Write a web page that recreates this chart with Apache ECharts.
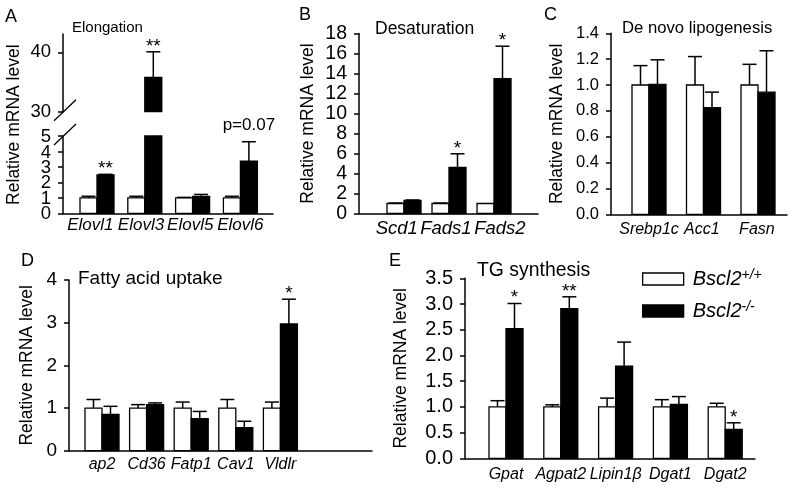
<!DOCTYPE html>
<html>
<head>
<meta charset="utf-8">
<script src="https://cdn.jsdelivr.net/npm/echarts@6.0.0/dist/echarts.min.js"></script>
<style>
  html, body { margin: 0; padding: 0; background: #fff; }
  #main { width: 799px; height: 489px; }
</style>
</head>
<body>
<div id="main"></div>
<script>
var FONT = '"Liberation Sans", Arial, sans-serif';
var BAR_W = 17;   // width of one bar
var CAP = 7;      // half width of error cap

// A - Elongation (broken axis)
var aCats = ['Elovl1', 'Elovl3', 'Elovl5', 'Elovl6'];
var aWt = [1, 1, 1, 1];
var aWtErr = [0.1, 0.1, 0.03, 0.1];
var aKo = [2.48, 35.8, 1.1, 3.38];
var aKoErr = [0.04, 4.3, 0.12, 1.25];
var aMarks = ['**', '**', '', 'p=0.07'];
var aLowTicks = [0, 1, 2, 3, 4, 5];
var aHighTicks = [30, 40];

// B - Desaturation
var bCats = ['Scd1', 'Fads1', 'Fads2'];
var bWt = [1, 1, 1];
var bWtErr = [0.05, 0.05, 0];
var bKo = [1.3, 4.62, 13.48];
var bKoErr = [0.05, 1.35, 3.25];
var bMarks = ['', '*', '*'];

// C - De novo lipogenesis
var cCats = ['Srebp1c', 'Acc1', 'Fasn'];
var cWt = [1, 1, 1];
var cWtErr = [0.15, 0.22, 0.16];
var cKo = [1.005, 0.825, 0.945];
var cKoErr = [0.19, 0.12, 0.32];
var cMarks = ['', '', ''];

// D - Fatty acid uptake
var dCats = ['ap2', 'Cd36', 'Fatp1', 'Cav1', 'Vldlr'];
var dWt = [1, 1, 1, 1, 1];
var dWtErr = [0.2, 0.08, 0.14, 0.2, 0.14];
var dKo = [0.85, 1.08, 0.75, 0.54, 2.97];
var dKoErr = [0.19, 0.04, 0.17, 0.15, 0.58];
var dMarks = ['', '', '', '', '*'];

// E - TG synthesis
var eCats = ['Gpat', 'Agpat2', 'Lipin1β', 'Dgat1', 'Dgat2'];
var eWt = [1, 1, 1, 1, 1];
var eWtErr = [0.12, 0.04, 0.17, 0.14, 0.07];
var eKo = [2.52, 2.91, 1.79, 1.05, 0.56];
var eKoErr = [0.49, 0.23, 0.47, 0.15, 0.13];
var eMarks = ['*', '**', '', '', '*'];

var WT_NAME = 'Bscl2+/+';
var KO_NAME = 'Bscl2-/-';
var YNAME = 'Relative mRNA level';

// layout per grid: axis pixels, first category centre, spacing, fonts, label shifts
var geo = [
  { left: 63, right: 273, top: 136, bottom: 213.3, c0: 97, s: 47.8, tick: 18.5, cat: 17, catGap: 3, shift: [-0.14, -0.08, -0.05, 0] },
  { left: 63, right: 273, top: 34, bottom: 111.7, c0: 97, s: 47.8, tick: 18.5, cat: 17, catGap: 3, shift: [0, 0, 0, 0] },
  { left: 359, right: 538, top: 33.5, bottom: 213.5, c0: 404, s: 45, tick: 19.5, cat: 18.5, catGap: 6, shift: [-0.16, -0.07, 0.13] },
  { left: 611, right: 787, top: 33.3, bottom: 214.3, c0: 649, s: 54.5, tick: 16.5, cat: 16, catGap: 7, shift: [0, -0.03, -0.02] },
  { left: 69, right: 372, top: 280, bottom: 450.7, c0: 102, s: 44.6, tick: 19, cat: 16, catGap: 6, shift: [0, 0, 0, 0, 0] },
  { left: 465, right: 755, top: 278.3, bottom: 458.3, c0: 506, s: 54.8, tick: 20, cat: 16, catGap: 8, shift: [0, 0, 0, 0, 0] }
];

function xMin(g) { return (g.left - g.c0) / g.s; }
function xMax(g) { return (g.right - g.c0) / g.s; }

function barRender(side, fill) {
  return function (params, api) {
    var cs = params.coordSys;
    var p = api.coord([api.value(0), api.value(1)]);
    var y0 = api.coord([api.value(0), 0])[1];
    var top = Math.max(p[1], cs.y);
    var bottom = Math.min(y0, cs.y + cs.height);
    if (top >= bottom) return null;
    var x = side < 0 ? p[0] - BAR_W : p[0];
    return {
      type: 'rect',
      shape: { x: x, y: top, width: BAR_W, height: bottom - top },
      style: { fill: fill, stroke: '#000', lineWidth: 1.3 }
    };
  };
}

function errRender(side, marks) {
  return function (params, api) {
    var cs = params.coordSys;
    var i = api.value(0), v = api.value(1), e = api.value(2);
    var pv = api.coord([i, v]);
    var pc = api.coord([i, v + e]);
    if (pv[1] < cs.y - 0.5 || pv[1] > cs.y + cs.height + 0.5) return null;
    var cx = pv[0] + side * BAR_W / 2;
    var kids = [];
    if (e > 0) {
      kids.push({ type: 'line', shape: { x1: cx, y1: pv[1], x2: cx, y2: pc[1] },
        style: { stroke: '#000', lineWidth: 1.5 } });
      kids.push({ type: 'line', shape: { x1: cx - CAP, y1: pc[1], x2: cx + CAP, y2: pc[1] },
        style: { stroke: '#000', lineWidth: 1.5 } });
    }
    var m = marks ? marks[params.dataIndex] : '';
    if (m) {
      var isText = m.charAt(0) === 'p';
      kids.push({ type: 'text', x: cx, y: pc[1] + (isText ? -8 : 4),
        style: { text: m, fill: '#000', align: 'center', verticalAlign: 'bottom',
          fontSize: isText ? 17 : 19, fontFamily: FONT } });
    }
    return { type: 'group', children: kids };
  };
}

function seriesFor(gi, cats, wt, wtErr, ko, koErr, marks) {
  var wtData = cats.map(function (c, i) { return [i, wt[i], wtErr[i]]; });
  var koData = cats.map(function (c, i) { return [i, ko[i], koErr[i]]; });
  var base = { type: 'custom', xAxisIndex: gi, yAxisIndex: gi, encode: { x: 0, y: 1 }, silent: true };
  return [
    Object.assign({}, base, { name: WT_NAME, data: wtData, renderItem: barRender(-1, '#fff'), itemStyle: { color: '#fff' } }),
    Object.assign({}, base, { name: KO_NAME, data: koData, renderItem: barRender(1, '#000'), itemStyle: { color: '#000' } }),
    Object.assign({}, base, { data: wtData, renderItem: errRender(-1, null), z: 3 }),
    Object.assign({}, base, { data: koData, renderItem: errRender(1, marks), z: 3 })
  ];
}

function xAxisFor(gi, cats, show) {
  var g = geo[gi];
  return {
    gridIndex: gi, type: 'value', min: xMin(g), max: xMax(g), show: show,
    axisLine: { show: true, onZero: false, lineStyle: { color: '#000', width: 1.5 } },
    axisTick: { show: false },
    splitLine: { show: false },
    axisLabel: {
      customValues: cats.map(function (c, i) { return i + g.shift[i]; }),
      formatter: function (v) { return cats[Math.round(v)]; },
      hideOverlap: false,
      fontSize: g.cat, fontStyle: 'italic', fontFamily: FONT, color: '#000', margin: g.catGap
    }
  };
}

function yAxisFor(gi, min, max, interval, decimals, name, nameGap, custom) {
  var ax = {
    gridIndex: gi, type: 'value', min: min, max: max, interval: interval,
    axisLine: { show: true, onZero: false, lineStyle: { color: '#000', width: 1.5 } },
    axisTick: { show: true, length: 5, lineStyle: { color: '#000', width: 1.5 } },
    splitLine: { show: false },
    axisLabel: {
      fontSize: geo[gi].tick, fontFamily: FONT, color: '#000', margin: 12,
      showMinLabel: true, showMaxLabel: true, hideOverlap: false,
      formatter: function (v) { return v.toFixed(decimals); }
    }
  };
  if (custom) {
    ax.axisLabel.customValues = custom;
    ax.axisTick.customValues = custom;
  }
  if (name) {
    ax.name = name;
    ax.nameLocation = 'middle';
    ax.nameGap = nameGap;
    ax.nameTextStyle = { fontSize: 17.5, fontFamily: FONT, color: '#000' };
  }
  return ax;
}

function titleAt(text, left, top, size) {
  return { text: text, left: left, top: top, padding: 0,
    textStyle: { fontSize: size, fontWeight: 'normal', fontFamily: FONT, color: '#000' } };
}

// the short lower segment of A is too dense for ECharts' own labels (it drops some),
// so its tick labels are placed below through the axis scale instead
var aLowY = yAxisFor(0, 0, 5, 1, 0, null, 0, aLowTicks);
aLowY.axisLabel.show = false;

var option = {
  backgroundColor: '#fff',
  animation: false,
  title: [
    titleAt('A', 5, 8, 18), titleAt('B', 299, 6, 18), titleAt('C', 544, 6, 18),
    titleAt('D', 21, 252, 18), titleAt('E', 389, 252, 18),
    titleAt('Elongation', 72, 20, 15),
    titleAt('Desaturation', 375, 20, 17.5),
    titleAt('De novo lipogenesis', 622, 20, 16.7),
    titleAt('Fatty acid uptake', 78, 269, 19),
    titleAt('TG synthesis', 477, 261, 19.4)
  ],
  grid: geo.map(function (g) {
    return { left: g.left, top: g.top, width: g.right - g.left, height: g.bottom - g.top,
      containLabel: false, outerBoundsMode: 'none' };
  }),
  xAxis: [
    xAxisFor(0, aCats, true),
    xAxisFor(1, aCats, false),
    xAxisFor(2, bCats, true),
    xAxisFor(3, cCats, true),
    xAxisFor(4, dCats, true),
    xAxisFor(5, eCats, true)
  ],
  yAxis: [
    aLowY,
    yAxisFor(1, 30, 43.1, 10, 0, null, 0, aHighTicks),
    yAxisFor(2, 0, 18, 2, 0, YNAME, 42),
    yAxisFor(3, 0, 1.4, 0.2, 1, YNAME, 45),
    yAxisFor(4, 0, 4, 1, 0, YNAME, 33),
    yAxisFor(5, 0, 3.5, 0.5, 1, YNAME, 55)
  ],
  legend: {
    left: 642, top: 268, orient: 'vertical', padding: 0,
    itemWidth: 41, itemHeight: 12, itemGap: 11,
    selectedMode: false,
    data: [
      { name: WT_NAME, icon: 'rect', itemStyle: { color: '#fff', borderColor: '#000', borderWidth: 1.3 } },
      { name: KO_NAME, icon: 'rect', itemStyle: { color: '#000', borderColor: '#000', borderWidth: 1.3 } }
    ],
    formatter: function (name) { return '{n|Bscl2}{s|' + name.slice(5) + '}'; },
    textStyle: {
      rich: {
        n: { fontSize: 20, fontStyle: 'italic', fontFamily: FONT, color: '#000', lineHeight: 22, padding: [0, 0, 0, 4] },
        s: { fontSize: 14, fontStyle: 'italic', fontFamily: FONT, color: '#000', lineHeight: 13, verticalAlign: 'top' }
      }
    }
  },
  series: [].concat(
    seriesFor(0, aCats, aWt, aWtErr, aKo, aKoErr, aMarks),
    seriesFor(1, aCats, aWt, aWtErr, aKo, aKoErr, aMarks),
    seriesFor(2, bCats, bWt, bWtErr, bKo, bKoErr, bMarks),
    seriesFor(3, cCats, cWt, cWtErr, cKo, cKoErr, cMarks),
    seriesFor(4, dCats, dWt, dWtErr, dKo, dKoErr, dMarks),
    seriesFor(5, eCats, eWt, eWtErr, eKo, eKoErr, eMarks)
  )
};

var chart = echarts.init(document.getElementById('main'), null, { renderer: 'canvas' });
chart.setOption(option);

// axis break marks, A lower tick labels and the A y title
var p30 = chart.convertToPixel({ gridIndex: 1 }, [xMin(geo[1]), aHighTicks[0]]);
var p5 = chart.convertToPixel({ gridIndex: 0 }, [xMin(geo[0]), aLowTicks[aLowTicks.length - 1]]);
function slash(p) {
  return { type: 'line', shape: { x1: p[0] - 9, y1: p[1] + 9, x2: p[0] + 13, y2: p[1] - 12 },
    style: { stroke: '#000', lineWidth: 1.3 } };
}
var extras = [slash(p30), slash(p5)];
aLowTicks.forEach(function (v) {
  var p = chart.convertToPixel({ gridIndex: 0 }, [xMin(geo[0]), v]);
  extras.push({ type: 'text', x: p[0] - 12, y: p[1] + 1,
    style: { text: String(v), fontSize: geo[0].tick, fontFamily: FONT, fill: '#000', align: 'right', verticalAlign: 'middle' } });
});
extras.push({ type: 'text', x: 14, y: (geo[1].top + geo[0].bottom) / 2 + 1, rotation: Math.PI / 2,
  style: { text: YNAME, fontSize: 17.5, fontFamily: FONT, fill: '#000', align: 'center', verticalAlign: 'middle' } });
chart.setOption({ graphic: extras });
</script>
</body>
</html>
